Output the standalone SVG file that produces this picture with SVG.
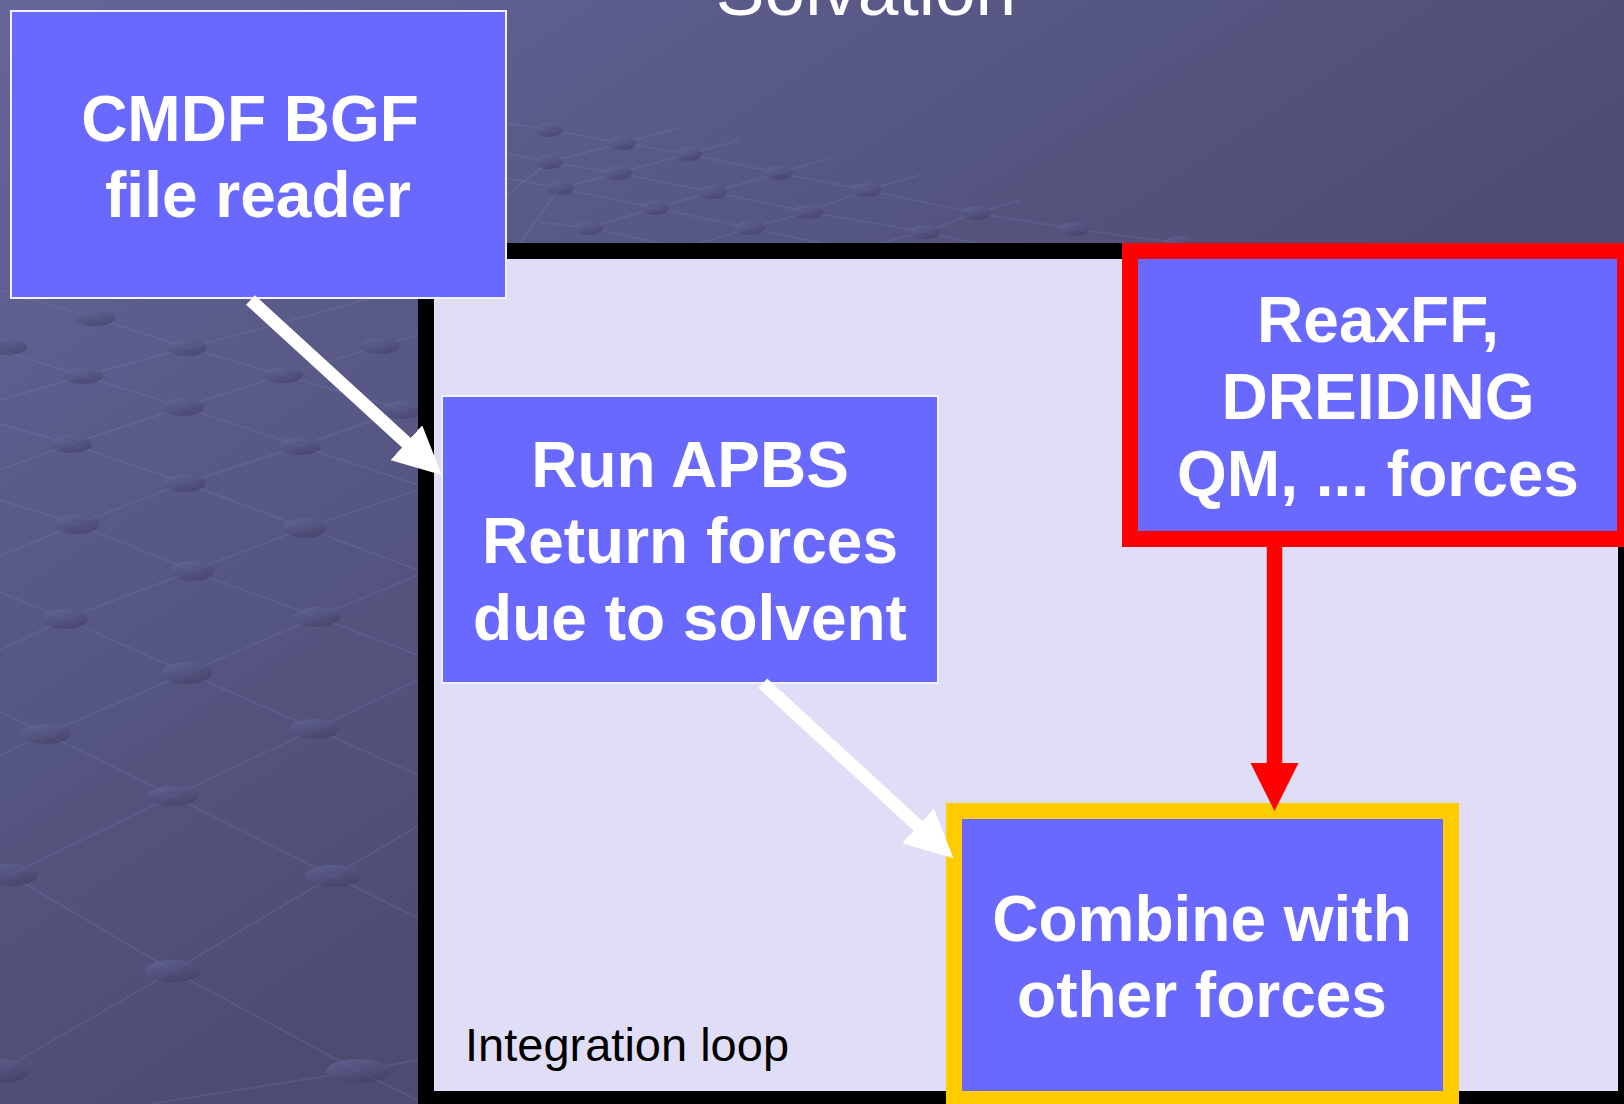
<svg xmlns="http://www.w3.org/2000/svg" width="1624" height="1104" viewBox="0 0 1624 1104">
  <defs>
    <linearGradient id="bg" gradientUnits="userSpaceOnUse" x1="0" y1="0" x2="560" y2="850">
      <stop offset="0" stop-color="#65659A"/>
      <stop offset="1" stop-color="#4C4C73"/>
    </linearGradient>
    <linearGradient id="bead" x1="0" y1="0" x2="0.6" y2="1">
      <stop offset="0" stop-color="#6E6EA2" stop-opacity="0.7"/>
      <stop offset="1" stop-color="#3C3C62" stop-opacity="0.55"/>
    </linearGradient>
    <marker id="headWhite" markerUnits="userSpaceOnUse" viewBox="0 0 48 47" markerWidth="48" markerHeight="47" refX="2" refY="23.5" orient="auto">
      <path d="M0,0 L48,23.5 L0,47 Z" fill="#FFFFFF"/>
    </marker>
    <marker id="headRed" markerUnits="userSpaceOnUse" viewBox="0 0 48 48" markerWidth="48" markerHeight="48" refX="2" refY="24" orient="auto">
      <path d="M0,0 L48,24 L0,48 Z" fill="#FF0000"/>
    </marker>
  </defs>
  <style>
    .lat { fill: none; stroke: #8A8AC0; stroke-opacity: 0.22; stroke-width: 1.5; }
    .bd { fill: url(#bead); }
    .box { fill: #6969FF; }
    .thin { stroke: #F2F2FF; stroke-width: 2; }
    .lbl { font-family: "Liberation Sans", Arial, sans-serif; font-weight: bold; font-size: 64px; fill: #FFFFFF; text-anchor: middle; }
    .flow { fill: none; stroke: #FFFFFF; stroke-width: 13; marker-end: url(#headWhite); }
  </style>

  <!-- backdrop with faint molecular lattice -->
  <rect x="0" y="0" width="1624" height="1104" fill="url(#bg)"/>
  <g id="lattice">
    <polyline class="lat" points="0,290 95,318 187,348 283,375 418,414"/>
    <polyline class="lat" points="0,350 83,376 183,407 300,446 418,485"/>
    <polyline class="lat" points="0,424 71,444 185,483 305,528 418,570"/>
    <polyline class="lat" points="0,500 77,524 192,571 317,617 418,655"/>
    <polyline class="lat" points="0,592 65,619 187,673 315,729 418,775"/>
    <polyline class="lat" points="0,712 46,734 173,796 333,876 418,918"/>
    <polyline class="lat" points="0,869 10,875 173,971 358,1071 418,1100"/>
    <polyline class="lat" points="0,400 83,376 187,348 300,318 418,285"/>
    <polyline class="lat" points="0,470 71,444 183,407 283,375 380,346 418,335"/>
    <polyline class="lat" points="0,556 77,524 185,483 300,446 403,410 418,405"/>
    <polyline class="lat" points="0,650 65,619 192,571 305,528 418,490"/>
    <polyline class="lat" points="0,755 46,734 187,673 317,617 418,575"/>
    <polyline class="lat" points="0,880 10,875 173,796 315,729 418,680"/>
    <polyline class="lat" points="0,1071 173,971 333,876 418,826"/>
    <polyline class="lat" points="150,1104 358,1071 418,1060"/>
    <ellipse class="bd" cx="95" cy="318" rx="20" ry="8"/>
    <ellipse class="bd" cx="187" cy="348" rx="20" ry="8"/>
    <ellipse class="bd" cx="380" cy="346" rx="20" ry="8"/>
    <ellipse class="bd" cx="7" cy="347" rx="20" ry="8"/>
    <ellipse class="bd" cx="83" cy="376" rx="20" ry="8"/>
    <ellipse class="bd" cx="283" cy="375" rx="20" ry="8"/>
    <ellipse class="bd" cx="183" cy="407" rx="21" ry="9"/>
    <ellipse class="bd" cx="403" cy="410" rx="21" ry="9"/>
    <ellipse class="bd" cx="71" cy="444" rx="21" ry="9"/>
    <ellipse class="bd" cx="300" cy="446" rx="21" ry="9"/>
    <ellipse class="bd" cx="185" cy="483" rx="21" ry="9"/>
    <ellipse class="bd" cx="77" cy="524" rx="22" ry="10"/>
    <ellipse class="bd" cx="305" cy="528" rx="22" ry="10"/>
    <ellipse class="bd" cx="192" cy="571" rx="22" ry="10"/>
    <ellipse class="bd" cx="65" cy="619" rx="23" ry="10"/>
    <ellipse class="bd" cx="317" cy="617" rx="23" ry="10"/>
    <ellipse class="bd" cx="187" cy="673" rx="25" ry="11"/>
    <ellipse class="bd" cx="46" cy="734" rx="25" ry="10"/>
    <ellipse class="bd" cx="315" cy="729" rx="25" ry="10"/>
    <ellipse class="bd" cx="173" cy="796" rx="25" ry="10"/>
    <ellipse class="bd" cx="10" cy="875" rx="28" ry="11"/>
    <ellipse class="bd" cx="333" cy="876" rx="28" ry="11"/>
    <ellipse class="bd" cx="173" cy="971" rx="28" ry="11"/>
    <ellipse class="bd" cx="358" cy="1071" rx="32" ry="12"/>
    <ellipse class="bd" cx="0" cy="1071" rx="30" ry="12"/>
    <!-- upper lattice -->
    <polyline class="lat" points="500,122 549,130 622,143 688,154 779,173 866,190 976,213 1074,229 1180,243"/>
    <polyline class="lat" points="500,152 549,162 618,173 713,192 808,212 925,232 975,243"/>
    <polyline class="lat" points="505,178 560,188 655,208 750,228 820,243"/>
    <polyline class="lat" points="540,222 589,228 660,243"/>
    <polyline class="lat" points="500,200 549,162 622,143 680,128"/>
    <polyline class="lat" points="520,243 560,188 618,173 688,154 740,140"/>
    <polyline class="lat" points="589,228 655,208 713,192 779,173 830,158"/>
    <polyline class="lat" points="700,243 750,228 808,212 866,190 920,175"/>
    <polyline class="lat" points="880,243 925,232 976,213 1020,200"/>
    <ellipse class="bd" cx="549" cy="130" rx="14" ry="7"/>
    <ellipse class="bd" cx="622" cy="143" rx="14" ry="7"/>
    <ellipse class="bd" cx="688" cy="154" rx="14" ry="7"/>
    <ellipse class="bd" cx="779" cy="173" rx="14" ry="7"/>
    <ellipse class="bd" cx="866" cy="190" rx="15" ry="7"/>
    <ellipse class="bd" cx="976" cy="213" rx="15" ry="7"/>
    <ellipse class="bd" cx="1074" cy="229" rx="15" ry="7"/>
    <ellipse class="bd" cx="1180" cy="243" rx="16" ry="7"/>
    <ellipse class="bd" cx="549" cy="162" rx="14" ry="7"/>
    <ellipse class="bd" cx="618" cy="173" rx="14" ry="7"/>
    <ellipse class="bd" cx="713" cy="192" rx="14" ry="7"/>
    <ellipse class="bd" cx="808" cy="212" rx="15" ry="7"/>
    <ellipse class="bd" cx="925" cy="232" rx="15" ry="7"/>
    <ellipse class="bd" cx="560" cy="188" rx="14" ry="7"/>
    <ellipse class="bd" cx="655" cy="208" rx="14" ry="7"/>
    <ellipse class="bd" cx="750" cy="228" rx="15" ry="7"/>
    <ellipse class="bd" cx="589" cy="228" rx="14" ry="7"/>
  </g>

  <!-- slide title, running off the top edge -->
  <text x="866" y="15" font-family="'Liberation Sans', Arial, sans-serif" font-size="73" fill="#FFFFFF" text-anchor="middle">Solvation</text>

  <!-- integration loop frame -->
  <g id="integration-loop">
    <rect x="426" y="251" width="1200" height="848" fill="#E0DEF6" stroke="#000000" stroke-width="16"/>
    <text x="465" y="1061" font-family="'Liberation Sans', Arial, sans-serif" font-size="47" fill="#000000">Integration loop</text>
  </g>

  <g id="bgf-reader">
    <rect class="box thin" x="11" y="11" width="495" height="287"/>
    <text class="lbl" x="250" y="141">CMDF BGF</text>
    <text class="lbl" x="258" y="217">file reader</text>
  </g>

  <g id="apbs">
    <rect class="box thin" x="442" y="396" width="496" height="287"/>
    <text class="lbl" x="690" y="487">Run APBS</text>
    <text class="lbl" x="690" y="563">Return forces</text>
    <text class="lbl" x="690" y="640">due to solvent</text>
  </g>

  <g id="force-fields">
    <rect class="box" x="1130" y="251" width="495" height="288" stroke="#FF0000" stroke-width="16"/>
    <text class="lbl" x="1378" y="342">ReaxFF,</text>
    <text class="lbl" x="1378" y="419">DREIDING</text>
    <text class="lbl" x="1378" y="496">QM, ... forces</text>
  </g>

  <g id="combine">
    <rect class="box" x="954" y="811" width="497" height="288" stroke="#FFCC00" stroke-width="16"/>
    <text class="lbl" x="1202" y="941">Combine with</text>
    <text class="lbl" x="1202" y="1017">other forces</text>
  </g>

  <g id="connectors">
    <line class="flow" x1="250.5" y1="300" x2="407.8" y2="444"/>
    <line class="flow" x1="762.8" y1="683.3" x2="919.5" y2="827.2"/>
    <line x1="1274.5" y1="547" x2="1274.5" y2="765" stroke="#FF0000" stroke-width="15.5" marker-end="url(#headRed)"/>
  </g>
</svg>
